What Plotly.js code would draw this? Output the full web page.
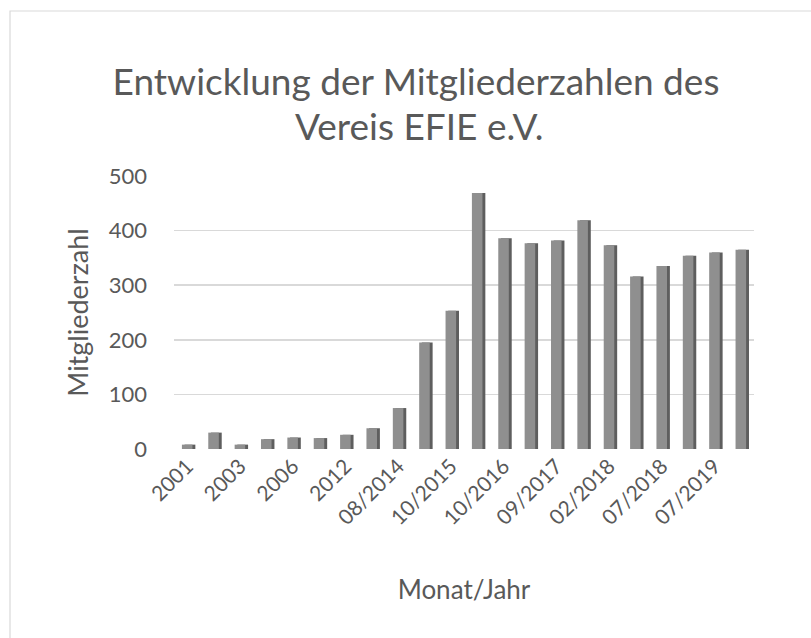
<!DOCTYPE html>
<html>
<head>
<meta charset="utf-8">
<script src="https://cdn.plot.ly/plotly-3.0.1.min.js"></script>
<style>html,body{margin:0;padding:0;background:#fff;}#chart{width:811px;height:638px;}</style>
</head>
<body>
<div id="chart"></div>
<script>
// Categories (month/year); only every other one is labelled in the reference
const categories = ["2001","2002","2003","2004","2006","2009","2012","2013","08/2014","02/2015","10/2015","03/2016","10/2016","03/2017","09/2017","12/2017","02/2018","05/2018","07/2018","12/2018","07/2019","12/2019"];
// Member counts
const members = [8, 30, 8, 18, 21, 20, 26, 38, 75, 195, 253, 469, 386, 377, 382, 419, 373, 316, 335, 354, 360, 365];
// Tick labels shown on the x axis
const tickLabels = ["2001","2003","2006","2012","08/2014","10/2015","10/2016","09/2017","02/2018","07/2018","07/2019"];
const yTicks = [0, 100, 200, 300, 400, 500];
const titleLines = ["Entwicklung der Mitgliederzahlen des", "Vereis EFIE e.V."];

const textColor = "#595959";
const font = "Lato, Open Sans, sans-serif";

const side = {
  type: "bar", x: categories, y: members,
  width: 0.41, offset: -0.1,
  marker: {color: "#5e5e5e"},
  hoverinfo: "skip", showlegend: false
};
const front = {
  type: "bar", x: categories, y: members,
  width: 0.40, offset: -0.2,
  marker: {color: "#8f8f8f"},
  hoverinfo: "x+y", showlegend: false
};

const L = 174, R = 57, T = 176, B = 189, H = 638 - T - B, W = 811 - L - R;

const layout = {
  width: 811, height: 638,
  paper_bgcolor: "#ffffff", plot_bgcolor: "#ffffff",
  margin: {l: L, r: R, t: T, b: B},
  barmode: "overlay",
  font: {family: font, color: textColor},
  title: {
    text: titleLines[0],
    font: {family: font, size: 37, color: textColor},
    x: (416 - L) / W, xref: "paper", xanchor: "center",
    y: 1 - 82 / 638, yref: "container", yanchor: "middle"
  },
  annotations: [{
    text: titleLines[1], showarrow: false,
    font: {family: font, size: 37, color: textColor},
    xref: "paper", yref: "paper",
    x: (419 - L) / W, xanchor: "center",
    y: (638 - B - 125) / H, yanchor: "middle"
  }],
  xaxis: {
    type: "category",
    tickmode: "array", tickvals: tickLabels, ticktext: tickLabels,
    tickangle: -45,
    tickfont: {family: font, size: 21, color: textColor},
    showgrid: false, zeroline: false, showline: false, ticks: "",
    title: {text: "Monat/Jahr", font: {family: font, size: 26, color: textColor}, standoff: 52}
  },
  yaxis: {
    range: [0, 500],
    tickmode: "array", tickvals: yTicks,
    tickfont: {family: font, size: 22, color: textColor},
    showgrid: true, gridcolor: "#d9d9d9", gridwidth: 1.5,
    zeroline: false, showline: false, ticks: "",
    ticklabelstandoff: 26,
    title: {text: "Mitgliederzahl", font: {family: font, size: 27, color: textColor}, standoff: 12}
  },
  shapes: [{
    type: "rect", xref: "paper", yref: "paper",
    x0: -(L - 10) / W, x1: 1.2, y0: -1, y1: (638 - 11 - B) / H,
    line: {color: "#d9d9d9", width: 1.2}, fillcolor: "rgba(0,0,0,0)", layer: "below"
  }]
};

Plotly.newPlot("chart", [side, front], layout, {displayModeBar: false, staticPlot: true});
</script>
</body>
</html>
